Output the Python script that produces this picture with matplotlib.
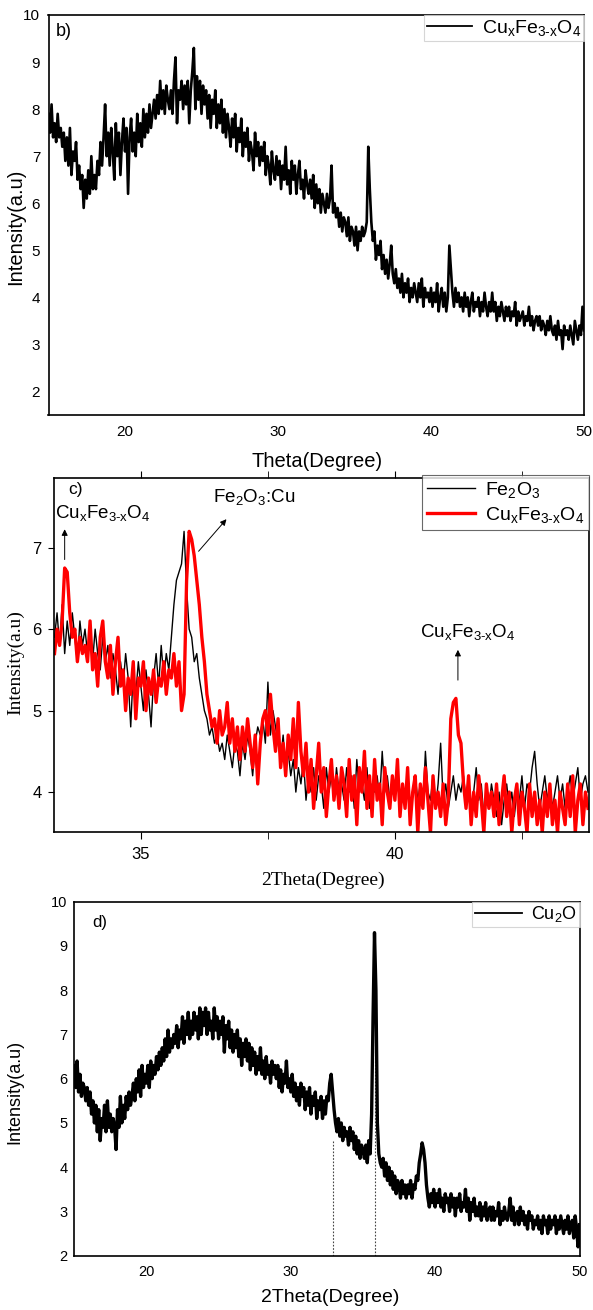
import numpy as np
import matplotlib
matplotlib.use("Agg")
import matplotlib.pyplot as plt
from matplotlib.ticker import FixedLocator

plt.rcParams['font.family'] = ['Liberation Sans', 'DejaVu Sans']
plt.rcParams['mathtext.default'] = 'regular'

# ---------------- panel b : CuxFe3-xO4 (Theta 15..50, step 0.1) ----------------
b_start, b_step = 15.0, 0.1
b_intensity = [
    7.9, 7.5, 8.1, 7.4, 7.7, 7.3, 7.9, 7.4, 7.6, 7.2,
    7.5, 6.9, 7.4, 6.8, 7.6, 6.6, 7.1, 6.9, 7.3, 6.5,
    6.8, 6.3, 6.6, 5.9, 6.5, 6.1, 6.7, 6.2, 7.0, 6.3,
    6.6, 6.3, 6.9, 6.6, 7.3, 6.8, 7.4, 8.1, 7.0, 7.5,
    6.8, 7.6, 7.1, 6.5, 7.7, 7.0, 7.5, 6.6, 7.3, 7.8,
    7.1, 7.6, 6.2, 7.4, 7.8, 7.1, 7.5, 7.0, 7.9, 7.3,
    7.7, 7.2, 8.0, 7.4, 7.9, 7.5, 8.1, 7.6, 7.9, 8.2,
    7.8, 8.3, 7.9, 8.6, 8.0, 8.4, 7.9, 8.5, 8.2, 8.0,
    8.4, 7.9, 8.6, 9.1, 7.7, 8.4, 8.2, 8.6, 8.0, 8.5,
    8.1, 8.6, 7.7, 8.4, 8.8, 9.3, 8.0, 8.7, 8.2, 8.6,
    7.9, 8.5, 8.1, 8.4, 7.8, 8.3, 7.6, 8.2, 7.9, 8.4,
    7.6, 8.1, 7.7, 8.2, 7.5, 8.0, 7.4, 7.9, 7.6, 7.2,
    7.8, 7.4, 7.9, 7.1, 7.6, 7.3, 7.8, 7.0, 7.5, 7.2,
    7.6, 6.9, 7.3, 7.1, 6.7, 7.5, 7.0, 7.3, 6.8, 7.2,
    6.9, 7.3, 6.6, 7.0, 6.8, 6.4, 7.1, 6.7, 6.5, 7.0,
    6.6, 6.9, 6.3, 6.8, 6.5, 7.2, 6.4, 6.7, 6.2, 6.9,
    6.5, 6.8, 6.2, 6.6, 6.9, 6.3, 6.5, 6.1, 6.7, 6.4,
    6.2, 6.5, 6.1, 6.6, 5.9, 6.4, 6.0, 6.3, 5.8, 6.2,
    6.0, 5.8, 6.2, 5.9, 6.1, 6.8, 5.8, 6.0, 5.7, 5.9,
    5.5, 5.8, 5.4, 5.7, 5.6, 5.3, 5.7, 5.2, 5.5, 5.4,
    5.1, 5.5, 5.0, 5.4, 5.2, 5.5, 5.3, 5.4, 5.6, 7.2,
    6.3, 5.6, 5.2, 5.4, 4.8, 5.1, 4.9, 5.2, 4.6, 4.9,
    4.5, 4.8, 4.4, 4.7, 5.1, 4.5, 4.3, 4.6, 4.2, 4.4,
    4.1, 4.5, 4.0, 4.3, 4.1, 4.4, 3.9, 4.2, 4.0, 4.3,
    4.1, 3.9, 4.3, 4.0, 4.4, 3.8, 4.2, 4.0, 4.1, 3.9,
    4.2, 3.8, 4.1, 3.9, 4.3, 3.7, 4.0, 4.2, 3.8, 4.1,
    3.7, 4.0, 5.1, 4.6, 4.1, 3.8, 4.2, 3.9, 4.1, 3.8,
    4.0, 3.7, 4.1, 3.8, 4.0, 3.6, 3.9, 4.1, 3.7, 3.9,
    3.8, 4.0, 3.6, 3.9, 3.7, 4.1, 3.8, 3.6, 3.9, 3.7,
    4.1, 3.7, 3.9, 3.5, 3.8, 3.6, 3.9, 3.7, 3.5, 3.8,
    3.6, 3.8, 3.5, 3.7, 3.6, 3.9, 3.4, 3.7, 3.5, 3.6,
    3.7, 3.4, 3.6, 3.5, 3.8, 3.4, 3.6, 3.3, 3.5, 3.6,
    3.4, 3.6, 3.3, 3.5, 3.4, 3.2, 3.5, 3.3, 3.6, 3.3,
    3.2, 3.4, 3.1, 3.5, 3.2, 3.3, 2.9, 3.4, 3.2, 3.3,
    3.1, 3.4, 3.2, 3.0, 3.5, 3.3, 3.1, 3.4, 3.2, 3.8,
    3.3,
]

# ---------------- panel c : 2Theta 33.30..43.80, step 0.05 ----------------
c_start, c_step = 33.30, 0.05
c_fe2o3 = [
    5.9, 6.2, 5.8, 6.3, 5.7, 6.1, 5.8, 6.2, 5.9, 5.6, 6.1, 5.8, 6.0, 5.7,
    5.9, 5.6, 6.0, 5.7, 5.5, 5.9, 5.6, 5.8, 5.4, 5.7, 5.5, 5.2, 5.6, 5.3, 5.7, 5.4, 4.8, 5.5, 5.2, 5.6,
    5.3, 5.0, 5.5, 5.2, 4.8, 5.4, 5.7, 5.3, 5.8, 5.4, 5.7, 5.5, 5.9, 6.3, 6.6, 6.7, 6.8, 7.2, 6.5, 6.0,
    5.9, 5.6, 5.7, 5.4, 5.2, 5.0, 4.9, 4.7, 4.8, 4.6, 4.7, 4.5, 4.6, 4.4, 4.7, 4.5, 4.3, 4.6, 4.5, 4.2,
    4.6, 4.4, 4.7, 4.5, 4.2, 4.6, 4.8, 4.7, 4.9, 4.6, 5.35, 4.7, 5.0, 4.8, 4.6, 4.4, 4.7, 4.3, 4.5, 4.2,
    4.4, 4.0, 4.3, 4.1, 4.4, 3.9, 4.2, 4.0, 4.3, 3.9, 4.2, 4.1, 3.8, 4.3, 4.0, 4.2, 3.9, 4.3, 4.0, 4.1,
    3.9, 4.3, 4.0, 4.2, 3.8, 4.4, 4.0, 4.1, 3.9, 4.3, 3.8, 4.1, 4.0, 4.2, 3.9, 4.5, 4.0, 4.2, 3.9, 4.1,
    4.0, 4.2, 3.8, 4.1, 3.9, 4.3, 3.7, 4.0, 4.2, 3.9, 4.1, 3.8, 4.5, 4.0, 3.9, 4.2, 3.8, 4.1, 4.6, 3.9,
    4.1, 3.8, 4.0, 4.2, 3.9, 4.1, 4.0, 4.2, 3.9, 4.1, 3.8, 4.0, 4.3, 3.9, 4.1, 3.7, 4.0, 3.8, 4.1, 3.9,
    3.7, 4.0, 3.6, 3.9, 4.1, 3.8, 4.0, 3.7, 4.0, 3.9, 4.2, 3.8, 4.1, 4.0, 4.3, 4.5, 4.1, 3.8, 4.0, 4.2,
    3.9, 4.1, 3.8, 4.0, 4.2, 3.9, 4.1, 3.8, 4.0, 4.2, 3.9, 4.1, 4.3, 3.9, 4.1, 4.2, 4.0,
]
c_cuxfe = [
    5.7, 6.0, 5.8, 6.1, 6.75, 6.7, 6.2, 5.9, 6.0, 5.6, 5.9, 5.7, 5.8, 5.6,
    6.1, 5.5, 5.7, 5.3, 5.9, 6.1, 5.6, 5.4, 5.8, 5.2, 5.6, 5.9, 5.3, 5.5, 5.0, 5.4, 5.2, 5.6, 4.9, 5.4,
    5.3, 5.6, 5.0, 5.4, 5.2, 5.5, 5.1, 5.4, 5.3, 5.6, 5.2, 5.5, 5.4, 5.7, 5.3, 5.6, 5.0, 5.2, 6.6, 7.2,
    7.1, 6.9, 6.6, 6.3, 5.9, 5.6, 5.2, 5.0, 4.8, 4.9, 4.6, 5.0, 4.7, 4.8, 5.1, 4.6, 4.9, 4.5, 4.8, 4.4,
    4.8, 4.5, 4.9, 4.6, 4.3, 4.7, 4.1, 4.6, 4.9, 5.0, 4.7, 5.2, 4.8, 4.5, 4.9, 4.3, 4.6, 4.2, 4.7, 4.4,
    4.9, 4.3, 5.1, 4.5, 4.2, 4.6, 4.0, 4.4, 3.8, 4.2, 4.6, 4.0, 4.3, 3.7, 4.1, 4.4, 3.9, 4.2, 3.8, 4.3,
    4.1, 3.7, 4.4, 3.9, 4.2, 3.6, 4.3, 4.0, 4.5, 3.8, 4.2, 3.7, 4.4, 3.9, 4.1, 3.6, 4.3, 4.0, 3.8, 4.2,
    3.9, 4.4, 3.7, 4.1, 3.8, 4.3, 3.6, 4.0, 4.2, 3.5, 4.1, 3.8, 4.3, 3.9, 3.5, 4.2, 3.8, 4.0, 3.7, 4.1,
    3.6, 3.9, 4.9, 5.1, 5.15, 4.7, 4.6, 4.1, 3.8, 4.2, 3.6, 4.0, 3.7, 4.2, 3.9, 3.5, 4.1, 3.8, 4.0, 3.7,
    4.1, 3.6, 3.9, 4.2, 3.7, 4.0, 3.5, 3.9, 4.1, 3.6, 4.0, 3.8, 3.5, 4.1, 3.7, 4.0, 3.6, 3.9, 3.5, 4.0,
    3.7, 4.1, 3.6, 3.9, 3.5, 4.0, 3.8, 3.6, 4.1, 3.7, 4.2, 3.5, 3.9, 4.1, 3.6, 4.0, 3.8,
]

# ---------------- panel d : Cu2O (2Theta 15..50, step 0.1) ----------------
d_start, d_step = 15.0, 0.1
d_intensity = [
    6.3, 5.8, 6.4, 5.7, 6.1, 5.6, 5.9, 5.8, 5.5, 5.8,
    5.4, 5.7, 5.2, 5.5, 5.0, 5.4, 4.8, 5.3, 4.6, 5.1,
    4.9, 5.4, 4.8, 5.5, 4.9, 5.2, 4.8, 5.1, 4.9, 4.4,
    5.3, 4.9, 5.6, 5.0, 5.4, 5.1, 5.6, 5.3, 5.7, 5.4,
    5.6, 5.9, 5.5, 6.0, 5.7, 6.2, 5.6, 6.3, 5.8, 6.1,
    5.9, 6.3, 5.8, 6.4, 6.0, 6.3, 6.1, 6.5, 6.2, 6.6,
    6.3, 6.7, 6.4, 6.9, 6.5, 7.1, 6.6, 6.9, 6.7, 7.0,
    6.8, 7.2, 6.7, 7.1, 6.9, 7.4, 6.8, 7.3, 7.0, 7.5,
    6.9, 7.3, 7.0, 7.5, 7.1, 7.4, 6.9, 7.6, 7.0, 7.5,
    7.2, 7.6, 7.0, 7.5, 7.1, 7.3, 6.9, 7.6, 7.1, 7.4,
    6.9, 7.3, 7.0, 7.4, 6.6, 7.2, 6.9, 7.3, 6.7, 7.1,
    6.6, 7.0, 6.7, 7.1, 6.5, 6.9, 6.3, 6.8, 6.5, 6.9,
    6.4, 6.8, 6.2, 6.7, 6.3, 6.6, 6.1, 6.5, 6.2, 6.7,
    6.1, 6.4, 6.0, 6.5, 6.1, 6.3, 5.9, 6.4, 6.1, 6.3,
    6.0, 6.3, 5.8, 6.2, 5.7, 6.1, 5.9, 6.4, 5.8, 6.0,
    5.7, 6.1, 5.6, 5.9, 5.5, 5.8, 5.4, 5.9, 5.6, 5.8,
    5.3, 5.7, 5.4, 5.8, 5.2, 5.6, 5.4, 5.7, 5.1, 5.5,
    5.3, 5.6, 5.1, 5.5, 5.2, 5.6, 5.5, 5.9, 6.1, 5.7,
    5.3, 5.0, 4.8, 5.1, 4.7, 5.0, 4.6, 4.9, 4.7, 4.8,
    4.5, 4.9, 4.6, 4.8, 4.4, 4.7, 4.3, 4.6, 4.2, 4.5,
    4.4, 4.2, 4.5, 4.1, 4.6, 4.3, 5.2, 7.4, 9.3, 8.0,
    5.0, 4.3, 4.1, 4.0, 4.2, 3.8, 4.1, 3.7, 4.0, 3.6,
    3.9, 3.5, 3.8, 3.4, 3.7, 3.6, 3.3, 3.7, 3.4, 3.6,
    3.3, 3.6, 3.4, 3.7, 3.3, 3.6, 3.5, 3.8, 3.7, 4.1,
    4.3, 4.55, 4.4, 4.1, 3.6, 3.3, 3.1, 3.4, 3.2, 3.5,
    3.1, 3.4, 3.2, 3.5, 3.1, 3.3, 3.0, 3.4, 3.2, 3.3,
    3.0, 3.4, 3.1, 3.3, 2.9, 3.3, 3.1, 3.4, 3.0, 3.2,
    3.1, 3.5, 3.0, 3.3, 2.8, 3.2, 3.0, 3.3, 2.9, 3.1,
    2.9, 3.2, 2.8, 3.1, 2.9, 3.2, 2.8, 3.0, 3.1, 2.8,
    3.1, 2.8, 3.0, 2.9, 3.2, 2.7, 3.0, 2.8, 3.1, 2.9,
    2.8, 3.0, 3.3, 2.8, 3.1, 2.7, 2.9, 3.0, 2.7, 3.1,
    2.8, 3.0, 2.7, 2.9, 2.6, 3.0, 2.8, 2.9, 2.6, 2.8,
    2.7, 2.9, 2.6, 2.8, 2.5, 2.9, 2.7, 2.8, 2.5, 2.9,
    2.6, 2.8, 2.7, 2.9, 2.5, 2.8, 2.6, 2.9, 2.7, 2.5,
    2.8, 2.6, 2.9, 2.5, 2.7, 2.8, 2.4, 2.9, 2.6, 2.2,
    2.7,
]
d_ref_lines_x = [32.9, 35.85]
d_ref_lines_top = [4.6, 7.0]

cux = 'Cu$_{x}$Fe$_{3\u2010x}$O$_{4}$'

W, H = 593, 1310
fig = plt.figure(figsize=(W / 100, H / 100), dpi=100)


def rect(l, t, r, b):
    return [l / W, 1 - b / H, (r - l) / W, (b - t) / H]


# ---------------- panel b ----------------
axb = fig.add_axes(rect(48.5, 15, 584, 415))
xb = b_start + b_step * np.arange(len(b_intensity))
axb.plot(xb, b_intensity, color='black', lw=1.9, label=cux)
axb.set_xlim(15, 50)
axb.set_ylim(1.5, 10)
axb.set_xticks([20, 30, 40, 50])
axb.set_yticks([2, 3, 4, 5, 6, 7, 8, 9, 10])
axb.tick_params(length=0, labelsize=11)
axb.tick_params(axis='x', pad=7)
axb.tick_params(axis='y', pad=6)
axb.set_xlabel('Theta(Degree)', fontsize=14.5, va='center')
axb.set_ylabel('Intensity(a.u)', fontsize=14.5, va='center')
axb.xaxis.set_label_coords(0.502, -0.1175)
axb.yaxis.set_label_coords(-0.062, 0.47)
axb.text(0.013, 0.958, 'b)', transform=axb.transAxes, fontsize=13, va='center')
lg = axb.legend(loc='upper right', bbox_to_anchor=(1.0, 1.0), borderaxespad=0,
                fontsize=14, frameon=True, fancybox=False, handlelength=2.3,
                borderpad=0.15, handletextpad=0.5)
lg.get_frame().set_edgecolor('#cccccc')
lg.get_frame().set_linewidth(0.8)
for line in lg.get_lines():
    line.set_linewidth(1.3)
for s in axb.spines.values():
    s.set_linewidth(1.2)

# ---------------- panel c ----------------
axc = fig.add_axes(rect(54, 478, 589, 832))
xc = c_start + c_step * np.arange(len(c_fe2o3))
axc.plot(xc, c_fe2o3, color='black', lw=1.0, label=r'Fe$_{2}$O$_{3}$')
axc.plot(xc, c_cuxfe, color='#ff0000', lw=2.4, label=cux)
axc.set_xlim(33.29, 43.82)
axc.set_ylim(3.51, 7.855)
axc.set_xticks([35, 40])
axc.xaxis.set_minor_locator(FixedLocator([37.5, 42.5]))
axc.set_yticks([4, 5, 6, 7])
axc.tick_params(axis='x', which='both', direction='out', length=5, top=True,
                labelsize=12, pad=6)
axc.tick_params(axis='y', direction='out', length=4, labelsize=12, pad=5)
axc.set_xlabel('2Theta(Degree)', fontsize=14, va='center', family='Liberation Serif')
axc.set_ylabel('Intensity(a.u)', fontsize=14, va='center', family='Liberation Serif')
axc.xaxis.set_label_coords(0.503, -0.1356)
axc.yaxis.set_label_coords(-0.072, 0.479)
axc.text(0.026, 0.968, 'c)', transform=axc.transAxes, fontsize=12.5, va='center')
lgc = axc.legend(loc='upper right', bbox_to_anchor=(1.0, 1.008), borderaxespad=0,
                 fontsize=14, frameon=True, fancybox=False, handlelength=2.5,
                 borderpad=0.25, handletextpad=0.5, labelspacing=0.25)
lgc.get_frame().set_edgecolor('#444444')
lgc.get_frame().set_linewidth(0.8)
arrow = dict(arrowstyle='-|>', color='black', lw=0.7, mutation_scale=9)
axc.annotate('', xy=(33.5, 7.26), xytext=(33.5, 6.82), arrowprops=arrow)
axc.text(33.31, 7.42, cux, fontsize=13.5, ha='left', va='center')
axc.annotate('', xy=(36.72, 7.375), xytext=(36.1, 6.93), arrowprops=arrow)
axc.text(36.42, 7.62, r'Fe$_{2}$O$_{3}$:Cu', fontsize=13.5, ha='left', va='center')
axc.annotate('', xy=(41.24, 5.78), xytext=(41.24, 5.34), arrowprops=arrow)
axc.text(41.44, 5.965, cux, fontsize=13.5, ha='center', va='center')
for s in axc.spines.values():
    s.set_linewidth(1.2)

# ---------------- panel d ----------------
axd = fig.add_axes(rect(74.2, 901.7, 579.5, 1255.7))
xd = d_start + d_step * np.arange(len(d_intensity))
axd.vlines(d_ref_lines_x, 2.0, d_ref_lines_top, colors='#444444',
           linestyles=(0, (1.5, 1.5)), lw=0.8)
axd.plot(xd, d_intensity, color='black', lw=2.4, label=r'Cu$_{2}$O')
axd.set_xlim(15, 50)
axd.set_ylim(2, 10)
axd.set_xticks([20, 30, 40, 50])
axd.set_yticks([2, 3, 4, 5, 6, 7, 8, 9, 10])
axd.tick_params(length=0, labelsize=10.5)
axd.tick_params(axis='x', pad=7)
axd.tick_params(axis='y', pad=5)
axd.set_xlabel('2Theta(Degree)', fontsize=14, va='center')
axd.set_ylabel('Intensity(a.u)', fontsize=13, va='center')
axd.xaxis.set_label_coords(0.506, -0.1167)
axd.yaxis.set_label_coords(-0.117, 0.463)
axd.text(0.035, 0.94, 'd)', transform=axd.transAxes, fontsize=12, va='center')
lgd = axd.legend(loc='upper right', bbox_to_anchor=(1.0, 1.0), borderaxespad=0,
                 fontsize=13, frameon=True, fancybox=False, handlelength=2.6,
                 borderpad=0.15, handletextpad=0.5)
lgd.get_frame().set_edgecolor('#cccccc')
lgd.get_frame().set_linewidth(0.8)
for line in lgd.get_lines():
    line.set_linewidth(1.3)
for s in axd.spines.values():
    s.set_linewidth(1.2)

fig.savefig('out.png', dpi=100)
